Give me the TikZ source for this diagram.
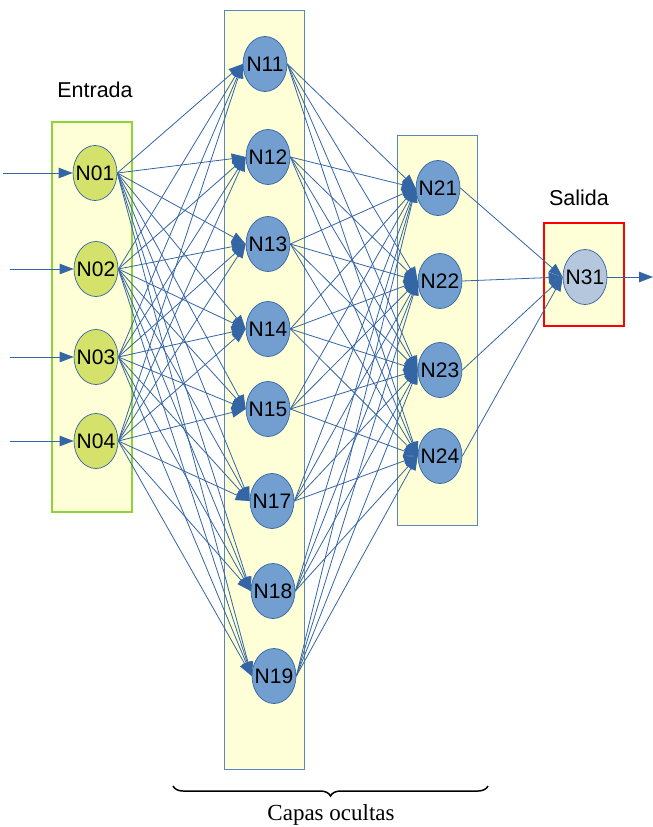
\documentclass[tikz,border=0pt]{standalone}
\usepackage{fontspec}
\setmainfont{Liberation Serif}
\setsansfont{Liberation Sans}
\usetikzlibrary{arrows.meta,shapes.geometric,decorations.pathreplacing}
\definecolor{linkblue}{HTML}{3465A4}
\definecolor{nodeblue}{HTML}{729FCF}
\definecolor{outblue}{HTML}{B4C7DC}
\definecolor{ingreen}{HTML}{D4E16A}
\definecolor{boxyellow}{HTML}{FFFFD7}
\definecolor{boxgreen}{HTML}{8CD43A}
\definecolor{boxblue}{HTML}{5B85C0}
\newcommand{\nlab}[1]{\makebox[0pt]{#1}}
\begin{document}
\begin{tikzpicture}[x=1pt,y=-1pt,
  neuron/.style={ellipse, draw=linkblue, line width=0.7pt, minimum width=44pt, minimum height=55pt, inner sep=0pt,
     font=\sffamily\fontsize{21}{21}\selectfont},
  inode/.style={neuron, fill=ingreen},
  hnode/.style={neuron, fill=nodeblue},
  onode/.style={neuron, fill=outblue},
  layerbox/.style={draw=boxblue, line width=0.8pt, fill=boxyellow},
  conn/.style={draw=linkblue, line width=0.8pt, -{Triangle[length=14pt,width=10.5pt]}},
  title/.style={font=\sffamily\fontsize{21.5}{21.5}\selectfont}]
\useasboundingbox (0,0) rectangle (653,827);
% boxes
\draw[fill=boxyellow, draw=boxgreen, line width=1.3pt] (52,122) rectangle (132,512);
\draw[layerbox] (224,10) rectangle (304,769);
\draw[layerbox] (397,135) rectangle (477,525);
\draw[fill=boxyellow, draw=red, line width=1.6pt] (544,223) rectangle (624,326);
% labels
\node[title] (lin) at (95,90) {Entrada};
\node[title] (lout) at (579,198) {Salida};
% nodes
\node[inode] (N01) at (95,173) {\nlab{N01}};
\node[inode] (N02) at (96,269) {\nlab{N02}};
\node[inode] (N03) at (96,357) {\nlab{N03}};
\node[inode] (N04) at (96,441) {\nlab{N04}};
\node[hnode] (N11) at (265,64) {\nlab{N11}};
\node[hnode] (N12) at (268,157) {\nlab{N12}};
\node[hnode] (N13) at (268,244) {\nlab{N13}};
\node[hnode] (N14) at (268,329) {\nlab{N14}};
\node[hnode] (N15) at (268,409) {\nlab{N15}};
\node[hnode] (N17) at (272,501) {\nlab{N17}};
\node[hnode] (N18) at (273,591) {\nlab{N18}};
\node[hnode] (N19) at (274,676) {\nlab{N19}};
\node[hnode] (N21) at (438,188) {\nlab{N21}};
\node[hnode] (N22) at (440,281) {\nlab{N22}};
\node[hnode] (N23) at (440,370) {\nlab{N23}};
\node[hnode] (N24) at (440,456) {\nlab{N24}};
\node[onode] (N31) at (585,277) {\nlab{N31}};
% input arrows
\coordinate (i1) at (3,173);
\coordinate (i2) at (10,269);
\coordinate (i3) at (10,357);
\coordinate (i4) at (10,441);
\coordinate (o1) at (653,277);
\draw[conn] (i1) -- (N01.west);
\draw[conn] (i2) -- (N02.west);
\draw[conn] (i3) -- (N03.west);
\draw[conn] (i4) -- (N04.west);
% connections
\foreach \a in {N01,N02,N03,N04}
  \foreach \b in {N11,N12,N13,N14,N15,N17,N18,N19}
    \draw[conn] (\a.east) -- (\b.west);
\foreach \a in {N11,N12,N13,N14,N15,N17,N18,N19}
  \foreach \b in {N21,N22,N23,N24}
    \draw[conn] (\a.east) -- (\b.west);
\foreach \a in {N21,N22,N23,N24}
  \draw[conn] (\a.east) -- (N31.west);
\draw[conn] (N31.east) -- (o1);
% brace
\coordinate (bl) at (173,786);
\coordinate (br) at (488,786);
\draw[decorate, decoration={brace, amplitude=10pt, mirror}, line width=1.5pt] (bl) -- (br);
\node[font=\fontsize{23}{23}\selectfont] (cap) at (331,815) {Capas ocultas};
\end{tikzpicture}
\end{document}
